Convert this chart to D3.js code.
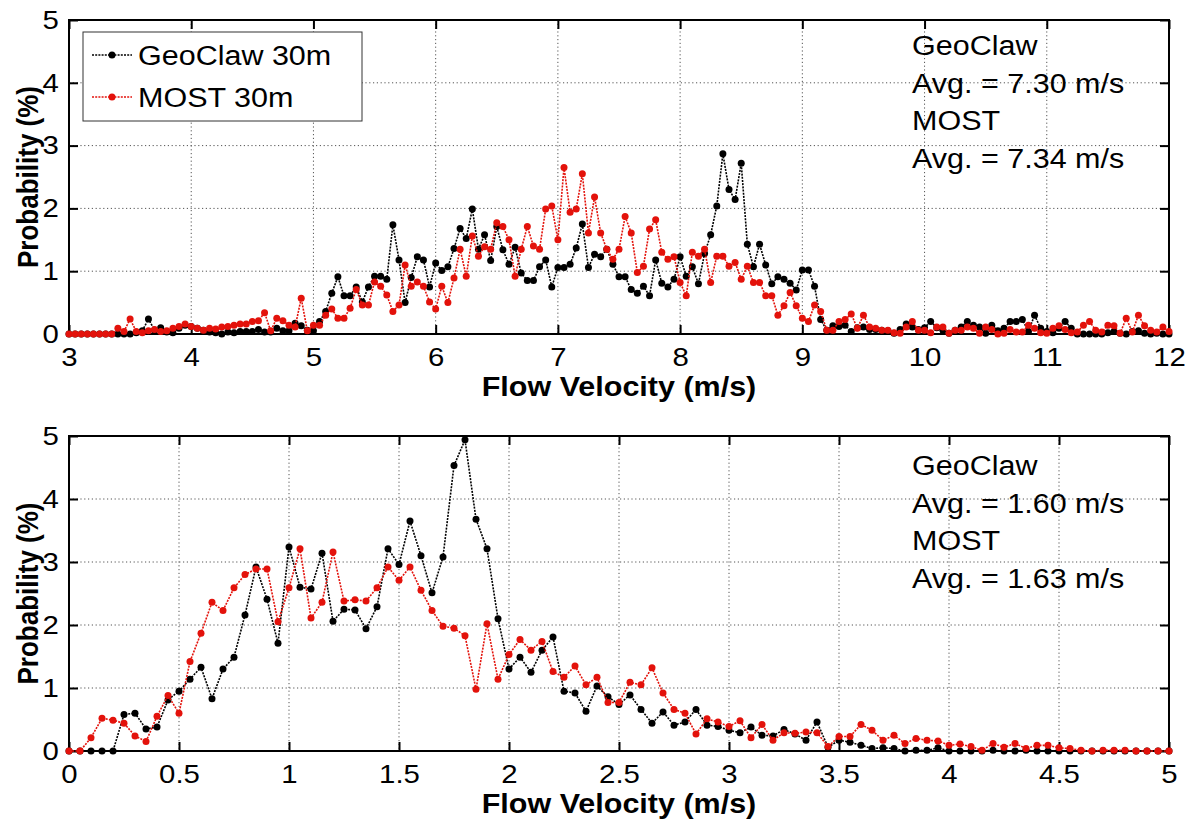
<!DOCTYPE html>
<html>
<head>
<meta charset="utf-8">
<script src="https://cdn.jsdelivr.net/npm/d3@7"></script>
<style>
body { margin: 0; background: #fff; }
text { font-family: "Liberation Sans", Arial, sans-serif; }
</style>
</head>
<body>
<div id="chart"></div>
<script>
// top panel: velocity bins 3..12 step 0.05
const topGeoClaw = [
  0,0,0,0,0,0,0,0,0,0,0,
  0.02,0.05,0.24,0.06,0.10,0.03,0.02,0.09,0.14,0.12,
  0.09,0.06,0.03,0.02,0.00,0.03,0.02,0.04,0.04,0.04,
  0.07,0.03,0.03,0.09,0.05,0.05,0.17,0.13,0.06,0.05,
  0.20,0.36,0.65,0.91,0.61,0.61,0.75,0.51,0.75,0.92,
  0.92,0.87,1.74,1.18,0.50,0.90,1.23,1.18,0.75,1.13,
  1.01,1.07,1.36,1.68,1.52,1.99,1.35,1.58,1.17,1.71,
  1.34,1.11,1.38,0.97,0.85,0.85,1.07,1.18,0.75,1.06,
  1.06,1.11,1.37,1.75,1.06,1.27,1.23,1.35,1.11,0.91,
  0.91,0.71,0.65,0.76,0.61,1.18,0.81,0.75,0.87,1.23,
  0.92,1.07,0.80,1.28,1.58,2.04,2.87,2.30,2.14,2.72,
  1.43,1.07,1.43,1.10,0.80,0.91,0.87,0.81,0.70,1.02,
  1.02,0.76,0.23,0.06,0.13,0.12,0.14,0.04,0.10,0.11,
  0.07,0.07,0.06,0.05,0.01,0.07,0.16,0.11,0.07,0.10,
  0.20,0.10,0.06,0.01,0.06,0.11,0.20,0.14,0.11,0.01,
  0.14,0.05,0.09,0.20,0.20,0.23,0.04,0.30,0.09,0.04,
  0.02,0.09,0.20,0.09,0.00,0.00,0.00,0.00,0.00,0.02,
  0.04,0.01,0.00,0.04,0.05,0.01,0.00,0.01,0.00,0.00
];
const topMOST = [
  0,0,0,0,0,0,0,0,0.09,0.04,0.24,
  0.04,0.02,0.05,0.07,0.04,0.05,0.09,0.12,0.16,0.12,
  0.09,0.06,0.09,0.08,0.11,0.12,0.14,0.16,0.16,0.20,
  0.21,0.34,0.05,0.25,0.21,0.14,0.11,0.57,0.05,0.14,
  0.14,0.30,0.40,0.25,0.25,0.41,0.71,0.46,0.46,0.83,
  0.76,0.62,0.36,0.46,1.10,0.76,0.83,0.76,0.51,0.40,
  0.76,0.50,0.89,1.35,0.92,1.56,1.24,1.39,1.35,1.77,
  1.71,1.50,0.92,1.35,1.71,1.40,1.35,1.99,2.04,1.50,
  2.65,1.94,1.99,2.55,1.61,2.18,1.61,1.35,1.19,1.35,
  1.87,1.61,0.98,1.08,1.67,1.82,1.30,1.19,1.23,0.82,
  0.61,1.30,1.24,1.35,0.82,1.24,1.24,1.08,1.14,0.87,
  1.08,0.82,0.82,0.61,0.61,0.30,0.45,0.66,0.45,0.25,
  0.20,0.46,0.36,0.06,0.06,0.20,0.23,0.32,0.09,0.30,
  0.11,0.09,0.06,0.06,0.02,0.01,0.11,0.20,0.06,0.06,
  0.02,0.11,0.11,0.01,0.06,0.06,0.11,0.09,0.01,0.11,
  0.07,0.00,0.01,0.07,0.03,0.03,0.14,0.09,0.02,0.01,
  0.09,0.13,0.07,0.02,0.03,0.14,0.20,0.06,0.03,0.14,
  0.13,0.01,0.25,0.03,0.30,0.13,0.06,0.03,0.11,0.04
];
// bottom panel: velocity bins 0..5 step 0.05
const botGeoClaw = [
  0,0,0,0,0,0.58,0.60,0.35,0.38,0.81,0.95,
  1.14,1.33,0.83,1.30,1.49,2.16,2.92,2.41,1.71,3.24,
  2.60,2.57,3.14,2.06,2.25,2.24,1.94,2.29,3.21,2.96,
  3.65,3.10,2.51,3.08,4.53,4.94,3.68,3.21,2.10,1.30,
  1.49,1.25,1.60,1.81,0.95,0.92,0.63,1.03,0.86,0.74,
  0.89,0.66,0.44,0.62,0.41,0.46,0.66,0.41,0.39,0.33,
  0.29,0.38,0.25,0.24,0.34,0.27,0.17,0.46,0.06,0.17,
  0.14,0.09,0.04,0.05,0.04,0.00,0.01,0.01,0.05,0.00,
  0.00,0.00,0.00,0.01,0.00,0.00,0.01,0.00,0.00,0.00,
  0.00,0.00,0.00,0.00,0.00,0.00,0.00,0.00,0.00,0.00
];
const botMOST = [
  0,0,0.21,0.52,0.49,0.44,0.24,0.15,0.55,0.88,0.60,
  1.42,1.87,2.36,2.23,2.59,2.80,2.89,2.89,2.05,2.59,
  3.21,2.11,2.36,3.16,2.38,2.40,2.38,2.59,2.92,2.71,
  2.92,2.55,2.23,1.98,1.95,1.83,0.98,2.02,1.14,1.53,
  1.77,1.60,1.74,1.26,1.17,1.35,1.05,1.17,0.77,0.77,
  1.09,1.05,1.32,0.92,0.66,0.60,0.27,0.51,0.46,0.39,
  0.48,0.21,0.42,0.17,0.29,0.28,0.30,0.29,0.07,0.23,
  0.23,0.42,0.33,0.17,0.25,0.12,0.20,0.17,0.16,0.09,
  0.11,0.07,0.01,0.12,0.06,0.12,0.04,0.09,0.09,0.05,
  0.04,0.01,0.00,0.01,0.01,0.01,0.00,0.00,0.00,0.00
];
const topBins = topGeoClaw.map((d, i) => 3 + i * 0.05);
const botBins = botGeoClaw.map((d, i) => i * 0.05);
const topXTicks = [3, 4, 5, 6, 7, 8, 9, 10, 11, 12];
const botXTicks = [0, 0.5, 1, 1.5, 2, 2.5, 3, 3.5, 4, 4.5, 5];
const yTicks = [0, 1, 2, 3, 4, 5];
const seriesNames = ["GeoClaw 30m", "MOST 30m"];
const seriesColors = ["#000000", "#e3120b"];
const topNotes = ["GeoClaw", "Avg. = 7.30 m/s", "MOST", "Avg. = 7.34 m/s"];
const botNotes = ["GeoClaw", "Avg. = 1.60 m/s", "MOST", "Avg. = 1.63 m/s"];

// the original figure is a bit wider than tall; text is stretched sideways
var stretch = 1.13;

var width = 1190, height = 821;
var svg = d3.select("#chart").append("svg")
    .attr("width", width)
    .attr("height", height);

function panel(opt) {
    var x = d3.scaleLinear().domain(opt.xDomain).range([69, 1169]);
    var y = d3.scaleLinear().domain([0, 5]).range([opt.bottom, opt.top]);
    var g = svg.append("g");

    // grid
    g.selectAll(".gx").data(opt.xTicks.slice(1, -1)).enter().append("line")
        .attr("x1", d => x(d)).attr("x2", d => x(d))
        .attr("y1", opt.top).attr("y2", opt.bottom)
        .attr("stroke", "#555").attr("stroke-width", 1).attr("stroke-dasharray", "1.2,2.6");
    g.selectAll(".gy").data(yTicks.slice(1, -1)).enter().append("line")
        .attr("x1", 69).attr("x2", 1169)
        .attr("y1", d => y(d)).attr("y2", d => y(d))
        .attr("stroke", "#555").attr("stroke-width", 1).attr("stroke-dasharray", "1.2,2.6");

    // axes with inward ticks, mirrored on all sides
    var fmt = d3.format("");
    var ax = g.append("g").attr("transform", "translate(0," + opt.bottom + ")")
        .call(d3.axisBottom(x).tickValues(opt.xTicks).tickSize(-9).tickPadding(14).tickFormat(fmt));
    g.append("g").attr("transform", "translate(0," + opt.top + ")")
        .call(d3.axisTop(x).tickValues(opt.xTicks).tickSize(-9).tickFormat(""));
    var ay = g.append("g").attr("transform", "translate(69,0)")
        .call(d3.axisLeft(y).tickValues(yTicks).tickSize(-9).tickPadding(9).tickFormat(fmt));
    g.append("g").attr("transform", "translate(1169,0)")
        .call(d3.axisRight(y).tickValues(yTicks).tickSize(-9).tickFormat(""));
    g.selectAll(".domain").remove();
    g.selectAll(".tick line").attr("stroke", "#000").attr("stroke-width", 2);
    g.selectAll(".tick text").attr("font-size", 26).attr("fill", "#000")
        .style("font-family", "'Liberation Sans', Arial, sans-serif")
        .attr("transform", "scale(" + stretch + ",1)");

    g.append("rect")
        .attr("x", 69).attr("y", opt.top)
        .attr("width", 1100).attr("height", opt.bottom - opt.top)
        .attr("fill", "none").attr("stroke", "#000").attr("stroke-width", 2);

    // series
    var line = d3.line().x(d => x(d[0])).y(d => y(d[1]));
    opt.series.forEach(function (s, k) {
        var pts = opt.bins.map((b, i) => [b, s[i]]);
        g.append("path").datum(pts)
            .attr("d", line)
            .attr("fill", "none")
            .attr("stroke", seriesColors[k])
            .attr("stroke-width", 1.6)
            .attr("stroke-dasharray", "2,1.2");
        g.selectAll(".m" + k).data(pts).enter().append("circle")
            .attr("cx", d => x(d[0])).attr("cy", d => y(d[1]))
            .attr("r", 3.5)
            .attr("fill", seriesColors[k]);
    });

    // labels
    g.append("text")
        .attr("transform", "translate(619," + (opt.bottom + 62) + ") scale(" + stretch + ",1)")
        .attr("text-anchor", "middle")
        .attr("font-size", 27).attr("font-weight", "bold")
        .text("Flow Velocity (m/s)");
    g.append("text")
        .attr("transform", "translate(38," + ((opt.top + opt.bottom) / 2) + ") rotate(-90) scale(1," + stretch + ")")
        .attr("text-anchor", "middle")
        .attr("font-size", 26).attr("font-weight", "bold")
        .text("Probability (%)");

    g.selectAll(".note").data(opt.notes).enter().append("text")
        .attr("transform", (d, i) => "translate(912," + (opt.noteY + i * 37.5) + ") scale(" + stretch + ",1)")
        .attr("font-size", 27)
        .text(d => d);
}

panel({ xDomain: [3, 12], top: 20, bottom: 334, xTicks: topXTicks,
        bins: topBins, series: [topGeoClaw, topMOST], notes: topNotes, noteY: 55 });
panel({ xDomain: [0, 5], top: 436, bottom: 751, xTicks: botXTicks,
        bins: botBins, series: [botGeoClaw, botMOST], notes: botNotes, noteY: 475 });

// legend (top panel)
var leg = svg.append("g");
leg.append("rect")
    .attr("x", 83).attr("y", 32).attr("width", 279).attr("height", 89)
    .attr("fill", "#fff").attr("stroke", "#333").attr("stroke-width", 1);
seriesNames.forEach(function (name, k) {
    var cy = 55 + k * 42;
    leg.append("line")
        .attr("x1", 92).attr("x2", 132).attr("y1", cy).attr("y2", cy)
        .attr("stroke", seriesColors[k]).attr("stroke-width", 1.6)
        .attr("stroke-dasharray", "2,1.2");
    leg.append("circle").attr("cx", 112).attr("cy", cy).attr("r", 3.5)
        .attr("fill", seriesColors[k]);
    leg.append("text")
        .attr("transform", "translate(138," + (cy + 10) + ") scale(" + stretch + ",1)")
        .attr("font-size", 27)
        .text(name);
});
</script>
</body>
</html>
